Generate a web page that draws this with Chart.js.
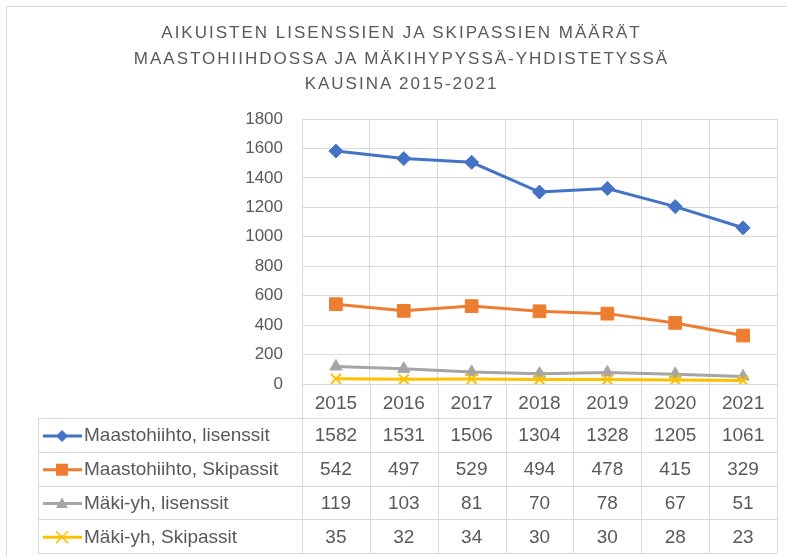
<!DOCTYPE html>
<html lang="fi">
<head>
    <meta charset="UTF-8">
    <title>Aikuisten lisenssien ja skipassien määrät</title>
    <style>
        html, body { margin: 0; padding: 0; background: #fff; }
        #wrap { position: relative; width: 787px; height: 556px; overflow: hidden; }
        #frame { position: absolute; left: 6px; top: 6px; width: 820px; height: 620px; border: 1px solid #d9d9d9; box-sizing: border-box; }
        #chart { position: absolute; left: 0; top: 0; }
        #title {
            position: absolute; left: 8px; top: 20px; width: 787px;
            text-align: center; color: #595959;
            font-family: "Liberation Sans", Arial, sans-serif;
            font-size: 17px; line-height: 25.5px; letter-spacing: 2px;
        }
    </style>
</head>
<body>
    <div id="wrap">
        <div id="frame"></div>
        <canvas id="chart" width="787" height="556"></canvas>
        <div id="title">AIKUISTEN LISENSSIEN JA SKIPASSIEN MÄÄRÄT<br>MAASTOHIIHDOSSA JA MÄKIHYPYSSÄ-YHDISTETYSSÄ<br>KAUSINA 2015-2021</div>
    </div>
    <script src="https://cdn.jsdelivr.net/npm/chart.js"></script>
    <script>
        // Kaudet ja sarjat
        const years = ["2015", "2016", "2017", "2018", "2019", "2020", "2021"];
        const seriesNames = ["Maastohiihto, lisenssit", "Maastohiihto, Skipassit", "Mäki-yh, lisenssit", "Mäki-yh, Skipassit"];
        const maastoLisenssit = [1582, 1531, 1506, 1304, 1328, 1205, 1061];
        const maastoSkipassit = [542, 497, 529, 494, 478, 415, 329];
        const makiLisenssit = [119, 103, 81, 70, 78, 67, 51];
        const makiSkipassit = [35, 32, 34, 30, 30, 28, 23];
        const yTicks = [0, 200, 400, 600, 800, 1000, 1200, 1400, 1600, 1800];

        const colors = ["#4472c4", "#ed7d31", "#a5a5a5", "#ffc000"];
        const markers = ["rectRot", "rect", "triangle", "crossRot"];
        const markerSize = [7, 9, 7, 7];
        const allValues = [maastoLisenssit, maastoSkipassit, makiLisenssit, makiSkipassit];

        const textColor = "#595959";
        const gridColor = "#d9d9d9";
        const fontFamily = "'Liberation Sans', Arial, sans-serif";

        // pieni merkki taulukon selitteeseen
        function drawMarker(ctx, style, x, y, r, color) {
            ctx.save();
            ctx.fillStyle = color;
            ctx.strokeStyle = color;
            ctx.beginPath();
            if (style === "rectRot") {
                ctx.moveTo(x, y - r); ctx.lineTo(x + r, y); ctx.lineTo(x, y + r); ctx.lineTo(x - r, y);
                ctx.closePath(); ctx.fill();
            } else if (style === "rect") {
                ctx.rect(x - r, y - r, 2 * r, 2 * r); ctx.fill();
            } else if (style === "triangle") {
                ctx.moveTo(x, y - r); ctx.lineTo(x + r, y + r * 0.75); ctx.lineTo(x - r, y + r * 0.75);
                ctx.closePath(); ctx.fill();
            } else {
                ctx.lineWidth = 1.5;
                ctx.moveTo(x - r, y - r); ctx.lineTo(x + r, y + r);
                ctx.moveTo(x + r, y - r); ctx.lineTo(x - r, y + r);
                ctx.stroke();
            }
            ctx.restore();
        }

        // Excelin tyylinen datataulukko kaavion alle
        const dataTable = {
            id: "dataTable",
            afterDraw(chart) {
                const ctx = chart.ctx;
                const xs = chart.scales.x;
                const area = chart.chartArea;
                const half = (xs.getPixelForValue(1) - xs.getPixelForValue(0)) / 2;
                const tableLeft = 38;
                const headTop = area.bottom;
                const headBottom = 418;
                const rowH = 33.8;
                const tableBottom = headBottom + rowH * seriesNames.length;

                ctx.save();
                ctx.strokeStyle = gridColor;
                ctx.lineWidth = 1;
                // vaakaviivat
                for (let r = 0; r <= seriesNames.length; r++) {
                    const y = Math.round(headBottom + r * rowH) + 0.5;
                    ctx.beginPath(); ctx.moveTo(tableLeft, y); ctx.lineTo(area.right, y); ctx.stroke();
                }
                // pystyviivat
                ctx.beginPath();
                ctx.moveTo(tableLeft + 0.5, headBottom); ctx.lineTo(tableLeft + 0.5, tableBottom);
                ctx.stroke();
                for (let i = 0; i <= years.length; i++) {
                    const x = Math.round(xs.getPixelForValue(0) - half + i * half * 2) + 0.5;
                    ctx.beginPath(); ctx.moveTo(x, headTop); ctx.lineTo(x, tableBottom); ctx.stroke();
                }

                ctx.font = "19px " + fontFamily;
                ctx.fillStyle = textColor;
                ctx.textBaseline = "middle";
                seriesNames.forEach((name, r) => {
                    const cy = headBottom + r * rowH + rowH / 2 + 1;
                    // selite: viiva + merkki
                    ctx.save();
                    ctx.strokeStyle = colors[r];
                    ctx.lineWidth = 3;
                    ctx.beginPath(); ctx.moveTo(43, cy); ctx.lineTo(82, cy); ctx.stroke();
                    ctx.restore();
                    drawMarker(ctx, markers[r], 62, cy, 6, colors[r]);
                    ctx.fillStyle = textColor;
                    ctx.textAlign = "left";
                    ctx.fillText(name, 84, cy);
                    ctx.textAlign = "center";
                    allValues[r].forEach((v, i) => {
                        ctx.fillText(String(v), xs.getPixelForValue(i), cy);
                    });
                });
                ctx.restore();
            }
        };

        new Chart(document.getElementById("chart"), {
            type: "line",
            data: {
                labels: years,
                datasets: seriesNames.map((name, i) => ({
                    label: name,
                    data: allValues[i],
                    borderColor: colors[i],
                    backgroundColor: colors[i],
                    borderWidth: 3,
                    pointStyle: markers[i],
                    pointRadius: markerSize[i],
                    pointHoverRadius: markerSize[i],
                    pointBorderWidth: i === 3 ? 2 : 1,
                    tension: 0,
                    order: 4 - i
                }))
            },
            options: {
                responsive: false,
                animation: false,
                layout: { padding: { top: 119, right: 9, left: 0, bottom: 0 } },
                plugins: {
                    legend: { display: false },
                    title: { display: false },
                    tooltip: { enabled: false }
                },
                scales: {
                    x: {
                        offset: true,
                        grid: { offset: true, color: gridColor, drawTicks: false },
                        border: { display: false },
                        ticks: { color: textColor, font: { family: fontFamily, size: 19 }, padding: 8 },
                        afterFit(scale) { scale.height = 172; }
                    },
                    y: {
                        min: 0,
                        max: 1800,
                        afterBuildTicks(scale) { scale.ticks = yTicks.map(v => ({ value: v })); },
                        grid: { color: gridColor, drawTicks: false },
                        border: { display: false },
                        ticks: {
                            color: textColor,
                            font: { family: fontFamily, size: 17 },
                            padding: 19,
                            callback: v => String(v)
                        },
                        afterFit(scale) { scale.width = 302; }
                    }
                }
            },
            plugins: [dataTable]
        });
    </script>
</body>
</html>
